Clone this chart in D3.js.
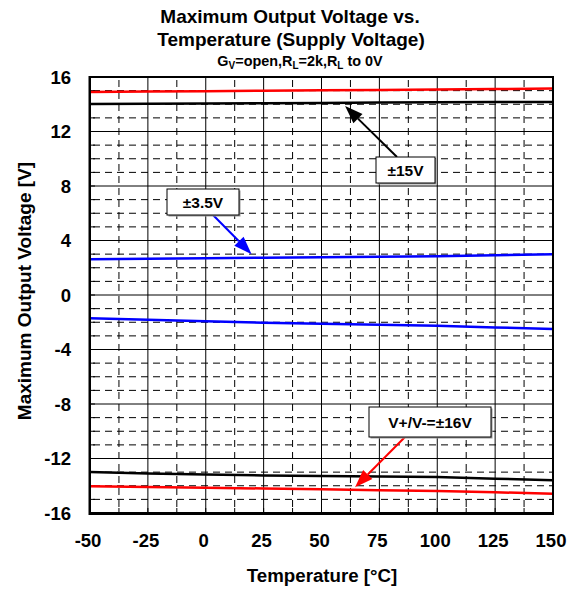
<!DOCTYPE html>
<html><head><meta charset="utf-8">
<script src="https://cdn.jsdelivr.net/npm/d3@7"></script>
<style>body{margin:0;background:#fff}svg{display:block}text{font-family:"Liberation Sans",Arial,sans-serif;font-weight:bold}</style>
</head><body><svg id="c" width="574" height="590"></svg>
<script>
const temps = [-50,-25,0,25,50,75,100,125,150];
const red16Pos = [14.9,14.93,14.96,14.99,15.02,15.05,15.08,15.12,15.15];
const blk15Pos = [14.02,14.03,14.05,14.08,14.1,14.12,14.14,14.16,14.17];
const blu35Pos = [2.62,2.66,2.70,2.74,2.77,2.80,2.84,2.91,2.99];
const blu35Neg = [-1.71,-1.82,-1.93,-2.03,-2.11,-2.19,-2.26,-2.38,-2.5];
const blk15Neg = [-12.99,-13.1,-13.18,-13.24,-13.28,-13.32,-13.36,-13.48,-13.6];
const red16Neg = [-14.04,-14.1,-14.15,-14.2,-14.26,-14.33,-14.39,-14.48,-14.58];
const xTicks = [-50,-25,0,25,50,75,100,125,150];
const yTicks = [-16,-12,-8,-4,0,4,8,12,16];
const series = [
  {v:red16Pos,c:"#ff0000"},{v:blk15Pos,c:"#000000"},
  {v:blu35Pos,c:"#0000ff"},{v:blu35Neg,c:"#0000ff"},
  {v:blk15Neg,c:"#000000"},{v:red16Neg,c:"#ff0000"}
];
const notes = [
  {label:"±15V", c:"#000", box:[376,157,59,26], from:[397,157], at:[60.2,13.87]},
  {label:"±3.5V", c:"#0000ff", box:[167,189,72,26], from:[213,215], at:[19.8,3.0]},
  {label:"V+/V-=±16V", c:"#ff0000", box:[369,407,122,30], from:[405,437], at:[64.5,-14.11]}
];

const svg = d3.select("#c");
const L=90,R=553,T=77,B=513;
const x = d3.scaleLinear().domain([-50,150]).range([L,R]);
const y = d3.scaleLinear().domain([-16,16]).range([B,T]);

// grid
const g = svg.append("g");
for(let v=-15; v<16; v++){
  const ln = g.append("line").attr("x1",L).attr("x2",R).attr("y1",y(v)).attr("y2",y(v)).attr("stroke","#000").attr("stroke-width",1);
  if(v%4!==0) ln.attr("stroke-dasharray","7,5").attr("stroke-dashoffset",-3);
}
for(let t=-37.5; t<150; t+=12.5){
  const ln = g.append("line").attr("y1",T).attr("y2",B).attr("x1",x(t)).attr("x2",x(t)).attr("stroke","#000").attr("stroke-width",1);
  if(t%25!==0) ln.attr("stroke-dasharray","7,5").attr("stroke-dashoffset",-3);
}
// inner ticks
for(let v=-15; v<16; v++){
  g.append("line").attr("x1",L).attr("x2",L+5).attr("y1",y(v)).attr("y2",y(v)).attr("stroke","#000");
}
for(let t=-37.5; t<150; t+=12.5){
  g.append("line").attr("y1",B).attr("y2",B-5).attr("x1",x(t)).attr("x2",x(t)).attr("stroke","#000");
}

// data lines
const line = d3.line().x((d,i)=>x(temps[i])).y(d=>y(d));
series.forEach(s=>{
  svg.append("path").attr("d",line(s.v)).attr("fill","none").attr("stroke",s.c).attr("stroke-width",2.5);
});

// frame
svg.append("rect").attr("x",L).attr("y",T).attr("width",R-L).attr("height",B-T).attr("fill","none").attr("stroke","#000").attr("stroke-width",2);
svg.append("line").attr("x1",L-1).attr("x2",L-1).attr("y1",T-1).attr("y2",B+2).attr("stroke","#000").attr("stroke-width",1);
svg.append("line").attr("x1",L-1).attr("x2",R+1).attr("y1",B+1.5).attr("y2",B+1.5).attr("stroke","#000").attr("stroke-width",1);

// axes labels
svg.append("g").selectAll("text").data(yTicks).join("text")
  .attr("x",71).attr("y",d=>y(d)).attr("dy","0.36em").attr("text-anchor","end").attr("font-size",18.5).text(d=>d);
svg.append("g").selectAll("text").data(xTicks).join("text")
  .attr("x",d=>x(d)-2).attr("y",547).attr("text-anchor","middle").attr("font-size",18.5).text(d=>d);
svg.append("text").attr("x",322).attr("y",582).attr("text-anchor","middle").attr("font-size",18.7).text("Temperature [°C]");
svg.append("text").attr("transform","translate(31,291) rotate(-90)").attr("text-anchor","middle").attr("font-size",19).text("Maximum Output Voltage [V]");

// titles
svg.append("text").attr("x",290).attr("y",23).attr("text-anchor","middle").attr("font-size",19).text("Maximum Output Voltage vs.");
svg.append("text").attr("x",291).attr("y",46).attr("text-anchor","middle").attr("font-size",19).text("Temperature (Supply Voltage)");
const st = svg.append("text").attr("x",300).attr("y",66).attr("text-anchor","middle").attr("font-size",14.4);
st.append("tspan").text("G");
st.append("tspan").attr("font-size",10).attr("dy",3).text("V");
st.append("tspan").attr("dy",-3).text("=open,R");
st.append("tspan").attr("font-size",10).attr("dy",3).text("L");
st.append("tspan").attr("dy",-3).text("=2k,R");
st.append("tspan").attr("font-size",10).attr("dy",3).text("L");
st.append("tspan").attr("dy",-3).text(" to 0V");

// annotations
notes.forEach((n,i)=>{
  const tx = x(n.at[0]), ty = y(n.at[1]);
  const [fx,fy] = n.from;
  const ang = Math.atan2(ty-fy, tx-fx);
  const hl=18, hw=6.5;
  const bx = tx - hl*Math.cos(ang), by = ty - hl*Math.sin(ang);
  svg.append("line").attr("x1",fx).attr("y1",fy).attr("x2",bx).attr("y2",by).attr("stroke",n.c).attr("stroke-width",2);
  const px = -Math.sin(ang)*hw, py = Math.cos(ang)*hw;
  svg.append("path").attr("d",`M${tx},${ty}L${bx+px},${by+py}L${bx-px},${by-py}Z`).attr("fill",n.c);
  const [rx,ry,rw,rh] = n.box;
  svg.append("rect").attr("x",rx+1.5).attr("y",ry+1.5).attr("width",rw).attr("height",rh).attr("fill","#999");
  svg.append("rect").attr("x",rx).attr("y",ry).attr("width",rw).attr("height",rh).attr("fill","#fff").attr("stroke","#000").attr("stroke-width",1);
  svg.append("text").attr("x",rx+rw/2).attr("y",ry+rh/2).attr("dy","0.36em").attr("text-anchor","middle").attr("font-size",15.5).text(n.label);
});
</script></body></html>
